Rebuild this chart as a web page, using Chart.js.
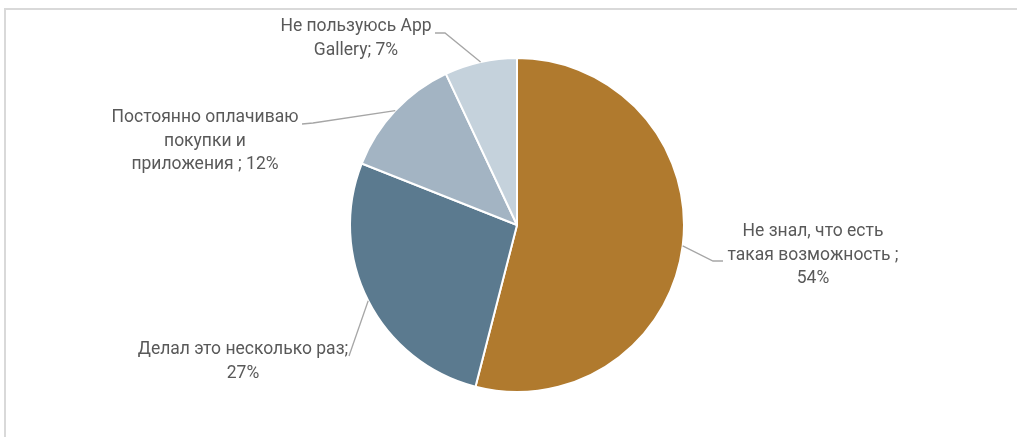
<!DOCTYPE html>
<html>
<head>
<meta charset="utf-8">
<script src="https://cdn.jsdelivr.net/npm/chart.js@4"></script>
<style>
  html, body { margin: 0; padding: 0; background: #fff; }
  body { width: 1017px; height: 437px; position: relative; overflow: hidden; }
  .frame {
    position: absolute; left: 4px; top: 8px; right: -10px; bottom: -10px;
    border-top: 2px solid #d9d9d9; border-left: 2px solid #d9d9d9;
  }
  #wrap { position: absolute; left: 0; top: 0; width: 1017px; height: 437px; }
</style>
</head>
<body>
<div class="frame"></div>
<div id="wrap"><canvas id="pie"></canvas></div>
<script>
// данные
const categories = [
  'Не знал, что есть такая возможность ',
  'Делал это несколько раз',
  'Постоянно оплачиваю покупки и приложения ',
  'Не пользуюсь App Gallery'
];
const shares = [54, 27, 12, 7];
const sliceColors = ['#b07a2e', '#5b7a8f', '#a3b4c3', '#c5d2dc'];

// подписи: строки текста, центр текста, точки выноски (после края сектора)
const labelLayout = [
  { lines: ['Не знал, что есть', 'такая возможность ;', '54%'], x: 813, y: 232, leader: [[713, 261], [723, 261]] },
  { lines: ['Делал это несколько раз;', '27%'], x: 243, y: 350, leader: [[349, 356]] },
  { lines: ['Постоянно оплачиваю', 'покупки и', 'приложения ; 12%'], x: 205, y: 118, leader: [[313, 123], [302, 124]] },
  { lines: ['Не пользуюсь App', 'Gallery; 7%'], x: 356, y: 27, leader: [[445, 33], [435, 33]] }
];
const LINE_H = 23.5;

const outsideLabels = {
  id: 'outsideLabels',
  afterDatasetsDraw(chart) {
    const ctx = chart.ctx;
    const arcs = chart.getDatasetMeta(0).data;
    ctx.save();
    arcs.forEach((arc, i) => {
      const lay = labelLayout[i];
      const mid = (arc.startAngle + arc.endAngle) / 2;
      const sx = arc.x + arc.outerRadius * Math.cos(mid);
      const sy = arc.y + arc.outerRadius * Math.sin(mid);
      ctx.strokeStyle = '#a6a6a6';
      ctx.lineWidth = 1.3;
      ctx.beginPath();
      ctx.moveTo(sx, sy);
      lay.leader.forEach(p => ctx.lineTo(p[0], p[1]));
      ctx.stroke();

      ctx.fillStyle = '#595959';
      ctx.font = '17.5px Roboto';
      ctx.textAlign = 'center';
      ctx.textBaseline = 'middle';
      lay.lines.forEach((t, k) => ctx.fillText(t, lay.x, lay.y + k * LINE_H));
    });
    ctx.restore();
  }
};

new Chart(document.getElementById('pie'), {
  type: 'pie',
  data: {
    labels: categories,
    datasets: [{
      data: shares,
      backgroundColor: sliceColors,
      borderColor: '#ffffff',
      borderWidth: 2
    }]
  },
  options: {
    responsive: true,
    maintainAspectRatio: false,
    animation: false,
    layout: { padding: { top: 57, bottom: 44, left: 17, right: 0 } },
    plugins: {
      legend: { display: false },
      tooltip: { enabled: false }
    }
  },
  plugins: [outsideLabels]
});
</script>
</body>
</html>
